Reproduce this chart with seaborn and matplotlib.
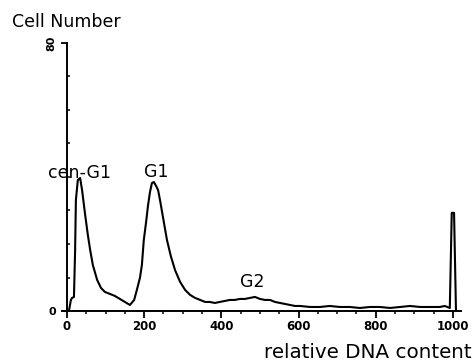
import matplotlib
matplotlib.use("Agg")
import matplotlib.pyplot as plt
import seaborn as sns
import pandas as pd
from matplotlib.ticker import MultipleLocator

# Data
dna = [0, 5, 10, 13, 18, 21, 23, 28, 34, 39, 47, 54, 60, 67, 78, 88, 98, 111, 124,
       137, 150, 163, 174, 181, 189, 194, 199, 205, 210, 215, 220, 225, 231, 236,
       241, 249, 259, 269, 280, 293, 306, 319, 332, 345, 358, 370, 383, 396, 409,
       422, 435, 448, 461, 474, 487, 500, 513, 526, 539, 552, 565, 578, 591, 604,
       630, 655, 681, 707, 733, 759, 785, 811, 837, 863, 889, 915, 940, 966, 979,
       992, 997, 1003, 1008]
cells = [0, 0, 3.3, 3.9, 4.2, 18.2, 33.1, 39.1, 39.7, 36.1, 28.7, 22.7, 18.2, 13.7,
         9.3, 6.9, 5.7, 5.1, 4.5, 3.6, 2.7, 1.8, 3.3, 6.3, 9.9, 13.7, 21.2, 26.6,
         31.6, 35.5, 38.2, 38.5, 37.3, 36.1, 33.1, 27.8, 21.2, 16.4, 12.2, 8.7, 6.3,
         4.8, 3.9, 3.3, 2.7, 2.7, 2.4, 2.7, 3.0, 3.3, 3.3, 3.6, 3.6, 3.9, 4.2, 3.6,
         3.3, 3.3, 2.7, 2.4, 2.1, 1.8, 1.5, 1.5, 1.2, 1.2, 1.5, 1.2, 1.2, 0.9, 1.2,
         1.2, 0.9, 1.2, 1.5, 1.2, 1.2, 1.2, 1.5, 0.9, 29.3, 29.3, 0]

x_ticks = [0, 200, 400, 600, 800, 1000]
x_ticklabels = ["0", "200", "400", "600", "800", "1000"]
y_ticks = [0, 80]
y_ticklabels = ["0", "80"]

peak_labels = ["cen-G1", "G1", "G2"]
peak_x = [33, 231, 479]
peak_y = [41.2, 41.5, 8.7]

df = pd.DataFrame({"dna": dna, "cells": cells})

sns.set_theme(style="white")
plt.rcParams["font.family"] = ["DejaVu Sans"]

fig = plt.figure(figsize=(4.75, 3.64), dpi=100)
ax = fig.add_axes([62 / 475, 53 / 364, 399 / 475, 268 / 364])

sns.lineplot(data=df, x="dna", y="cells", ax=ax, color="black", linewidth=1.5,
             estimator=None, sort=False)

ax.set_xlim(-13, 1021)
ax.set_ylim(0, 80)

for s in ["top", "right"]:
    ax.spines[s].set_visible(False)
ax.spines["left"].set_position(("data", 0))
ax.spines["left"].set_color("black")
ax.spines["bottom"].set_color("black")
ax.spines["left"].set_linewidth(1.4)
ax.spines["bottom"].set_linewidth(1.4)

ax.set_xticks(x_ticks)
ax.set_xticklabels(x_ticklabels, fontsize=8.5, fontweight="bold")
ax.xaxis.set_minor_locator(MultipleLocator(50))
ax.tick_params(axis="x", which="major", direction="out", length=5, width=1.3,
               colors="black", pad=1.5, bottom=True)
ax.tick_params(axis="x", which="minor", direction="out", length=2, width=1.1,
               colors="black", bottom=True)

ax.set_yticks(y_ticks)
ax.set_yticklabels(y_ticklabels, fontsize=8, fontweight="bold")
ax.get_yticklabels()[1].set_rotation(90)
ax.get_yticklabels()[1].set_va("center")
ax.yaxis.set_minor_locator(MultipleLocator(10))
ax.tick_params(axis="y", which="major", direction="out", length=4, width=1.3,
               colors="black", pad=4, left=True)
ax.tick_params(axis="y", which="minor", direction="in", length=2, width=1.1,
               colors="black", left=True)

ax.set_xlabel("")
ax.set_ylabel("")

for lab, xx, yy in zip(peak_labels, peak_x, peak_y):
    ax.text(xx, yy, lab, ha="center", va="center", fontsize=12.5, color="black",
            clip_on=False)

fig.text(12 / 475, 1 - 22 / 364, "Cell Number", ha="left", va="center",
         fontsize=12.5, color="black")
fig.text(472 / 475, 1 - 352 / 364, "relative DNA content", ha="right",
         va="center", fontsize=14.3, color="black")

fig.savefig("out.png", dpi=100)
